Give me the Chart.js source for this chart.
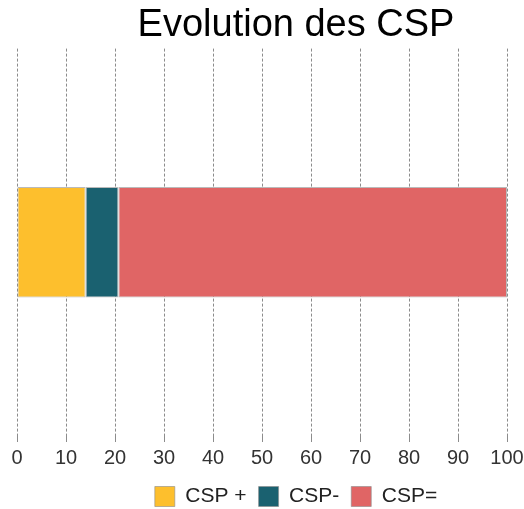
<!DOCTYPE html>
<html>
<head>
<meta charset="utf-8">
<script src="https://cdn.jsdelivr.net/npm/chart.js@4/dist/chart.umd.min.js"></script>
<style>
  body { margin: 0; background: #fff; }
  #wrap { width: 524px; height: 509px; }
</style>
</head>
<body>
<div id="wrap"><canvas id="myChart"></canvas></div>
<script>
// datos
var categorias = [""];
var seriesNombres = ["CSP +", "CSP-", "CSP="];
var cspMas = [14];
var cspMenos = [6.7];
var cspIgual = [79.3];
var ticksX = [0, 10, 20, 30, 40, 50, 60, 70, 80, 90, 100];
var colores = ["#fdbf2d", "#1a6170", "#e06565"];

// ggplot centra titulo y leyenda un poco a la derecha
var desplazar = {
    id: 'desplazar',
    afterLayout: function (chart) {
        chart.titleBlock.left = 85;
        chart.legend.left = 85;
    }
};

var grafica = new Chart(document.getElementById("myChart"), {
    type: 'bar',
    data: {
        labels: categorias,
        datasets: [
            { label: seriesNombres[0], data: cspMas, backgroundColor: colores[0] },
            { label: seriesNombres[1], data: cspMenos, backgroundColor: colores[1] },
            { label: seriesNombres[2], data: cspIgual, backgroundColor: colores[2] }
        ]
    },
    options: {
        indexAxis: 'y',
        responsive: true,
        maintainAspectRatio: false,
        animation: false,
        datasets: {
            bar: {
                categoryPercentage: 1,
                barPercentage: 0.285,
                borderWidth: 1,
                borderColor: 'rgba(140,140,140,0.6)',
                borderSkipped: false
            }
        },
        layout: { padding: { left: 17, right: 17, top: 0, bottom: -8 } },
        scales: {
            x: {
                stacked: true,
                min: 0,
                max: 100,
                afterBuildTicks: function (axis) {
                    axis.ticks = ticksX.map(function (v) { return { value: v }; });
                },
                afterFit: function (axis) {
                    // dejar que el "100" se corte en el borde como en el original
                    axis.paddingLeft = 0;
                    axis.paddingRight = 0;
                },
                grid: {
                    color: '#8c8c8c',
                    lineWidth: 1,
                    tickLength: 6,
                    drawOnChartArea: true
                },
                border: { display: false, dash: [3, 2] },
                ticks: {
                    color: '#333',
                    padding: 4,
                    maxRotation: 0,
                    font: { family: 'Liberation Sans, Arial', size: 20 }
                }
            },
            y: {
                stacked: true,
                display: false
            }
        },
        plugins: {
            title: {
                display: true,
                text: 'Evolution des CSP',
                color: '#000',
                padding: { top: 3, bottom: 0 },
                font: { family: 'Liberation Sans, Arial', size: 38, weight: 'normal' }
            },
            legend: {
                position: 'bottom',
                labels: {
                    boxWidth: 20,
                    boxHeight: 20,
                    padding: 12,
                    color: '#222',
                    font: { family: 'Liberation Sans, Arial', size: 21 }
                }
            },
            tooltip: { enabled: false }
        }
    },
    plugins: [desplazar]
});
</script>
</body>
</html>
